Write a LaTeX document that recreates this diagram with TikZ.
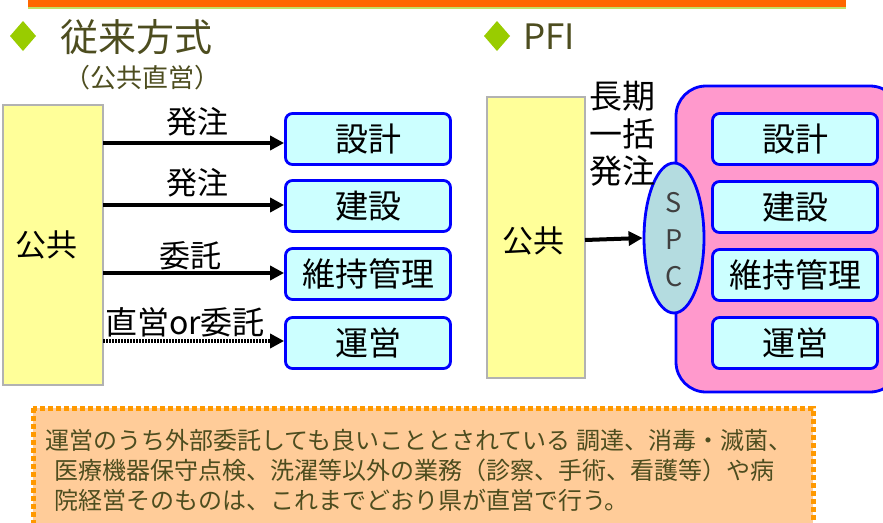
\documentclass[tikz,border=0pt]{standalone}
\usepackage{fontspec}
\setmainfont{Noto Sans CJK JP}
\usetikzlibrary{shapes.geometric,arrows.meta}
\definecolor{barorange}{HTML}{FF6600}
\definecolor{diagreen}{HTML}{99CC00}
\definecolor{headtxt}{HTML}{4D4D1F}
\definecolor{pubyellow}{HTML}{FFFF99}
\definecolor{boxcyan}{HTML}{CCFFFF}
\definecolor{boxblue}{HTML}{0000FF}
\definecolor{spcfill}{HTML}{B4DCE0}
\definecolor{pinkfill}{HTML}{FF99CC}
\definecolor{notefill}{HTML}{FFCC99}
\definecolor{notedge}{HTML}{FF9900}
\tikzset{
  pubbox/.style={draw=gray!60, fill=pubyellow, line width=1.5pt},
  taskbox/.style={draw=boxblue, fill=boxcyan, line width=2.8pt, rounded corners=7pt, minimum width=165pt, minimum height=51pt, inner sep=0pt, font=\fontsize{33}{33}\selectfont},
  flow/.style={line width=4pt, -{Triangle[length=14pt,width=14pt]}},
  flowlabel/.style={font=\fontsize{31}{31}\selectfont, inner sep=0pt},
  notetext/.style={anchor=west, text=headtxt, font=\fontsize{24}{24}\selectfont, inner sep=0pt},
  spcletter/.style={font=\fontsize{27}{27}\selectfont, text=black!75, inner sep=0pt},
}
\begin{document}
\begin{tikzpicture}[x=1pt,y=-1pt]
\useasboundingbox (0,0) rectangle (883,522);
% top bar
\fill[barorange] (28,0) rectangle (846,7);
\fill[diagreen!60] (28,7) rectangle (846,9);
% headers
\fill[diagreen] (23,21) -- (36,36) -- (23,51) -- (10,36) -- cycle;
\fill[diagreen] (497,21) -- (510,36) -- (497,51) -- (484,36) -- cycle;
\node[anchor=west, text=headtxt, font=\fontsize{38}{38}\selectfont, inner sep=0pt] (h1) at (60,37) {従来方式};
\node[anchor=west, text=headtxt, font=\fontsize{26}{26}\selectfont, inner sep=0pt] (h2) at (64,78) {（公共直営）};
\node[anchor=west, text=headtxt, font=\fontsize{35}{35}\selectfont, inner sep=0pt] (h3) at (523,37) {PFI};
% left: traditional
\draw[pubbox] (3,105) rectangle (103,385);
\node[font=\fontsize{31}{31}\selectfont] (pubL) at (47,245) {公共};
\coordinate (pLa) at (103,143);
\coordinate (pLb) at (103,205);
\coordinate (pLc) at (103,273);
\coordinate (pLd) at (103,341);
\node[taskbox] (t1) at (368,139) {設計};
\node[taskbox] (t2) at (368,206) {建設};
\node[taskbox] (t3) at (368,274) {維持管理};
\node[taskbox] (t4) at (368,343) {運営};
\draw[flow] (pLa) -- (pLa -| t1.west);
\draw[flow] (pLb) -- (pLb -| t2.west);
\draw[flow] (pLc) -- (pLc -| t3.west);
\draw[line width=4pt, dash pattern=on 2pt off 1pt, -{Triangle[length=14pt,width=14pt]}] (pLd) -- (pLd -| t4.west);
\node[flowlabel] (l1) at (197,122) {発注};
\node[flowlabel] (l2) at (197,183) {発注};
\node[flowlabel] (l3) at (190,256) {委託};
\node[flowlabel, font=\fontsize{32}{32}\selectfont] (l4) at (185,322) {直営or委託};
% right: PFI
\draw[pubbox] (487,97) rectangle (585,378);
\node[font=\fontsize{31}{31}\selectfont] (pubR) at (533,241) {公共};
\draw[draw=boxblue, fill=pinkfill, line width=2.8pt, rounded corners=30pt] (676,86) rectangle (900,392);
\node[taskbox] (r1) at (795,139) {設計};
\node[taskbox] (r2) at (795,207) {建設};
\node[taskbox] (r3) at (795,275) {維持管理};
\node[taskbox] (r4) at (795,343) {運営};
\node[ellipse, draw=boxblue, fill=spcfill, line width=2.8pt, minimum width=60pt, minimum height=150pt, inner sep=0pt] (spc) at (674,238) {};
\node[spcletter] (s1) at (674,203) {S};
\node[spcletter] (s2) at (674,240) {P};
\node[spcletter] (s3) at (674,277) {C};
\coordinate (pR) at (585,240);
\draw[flow] (pR) -- (spc.west);
\node[flowlabel, font=\fontsize{33}{33}\selectfont] (k1) at (622,96) {長期};
\node[flowlabel, font=\fontsize{33}{33}\selectfont] (k2) at (622,134) {一括};
\node[flowlabel, font=\fontsize{33}{33}\selectfont] (k3) at (622,171) {発注};
% note
\draw[fill=notefill, draw=notedge, line width=5pt, dash pattern=on 5pt off 3pt] (33,408) rectangle (813,530);
\node[notetext] (n1) at (45,440) {運営のうち外部委託しても良いこととされている\hspace{6pt}調達、消毒・滅菌、};
\node[notetext] (n2) at (54,470) {医療機器保守点検、洗濯等以外の業務（診察、手術、看護等）や病};
\node[notetext] (n3) at (54,500) {院経営そのものは、これまでどおり県が直営で行う。};
\end{tikzpicture}
\end{document}
